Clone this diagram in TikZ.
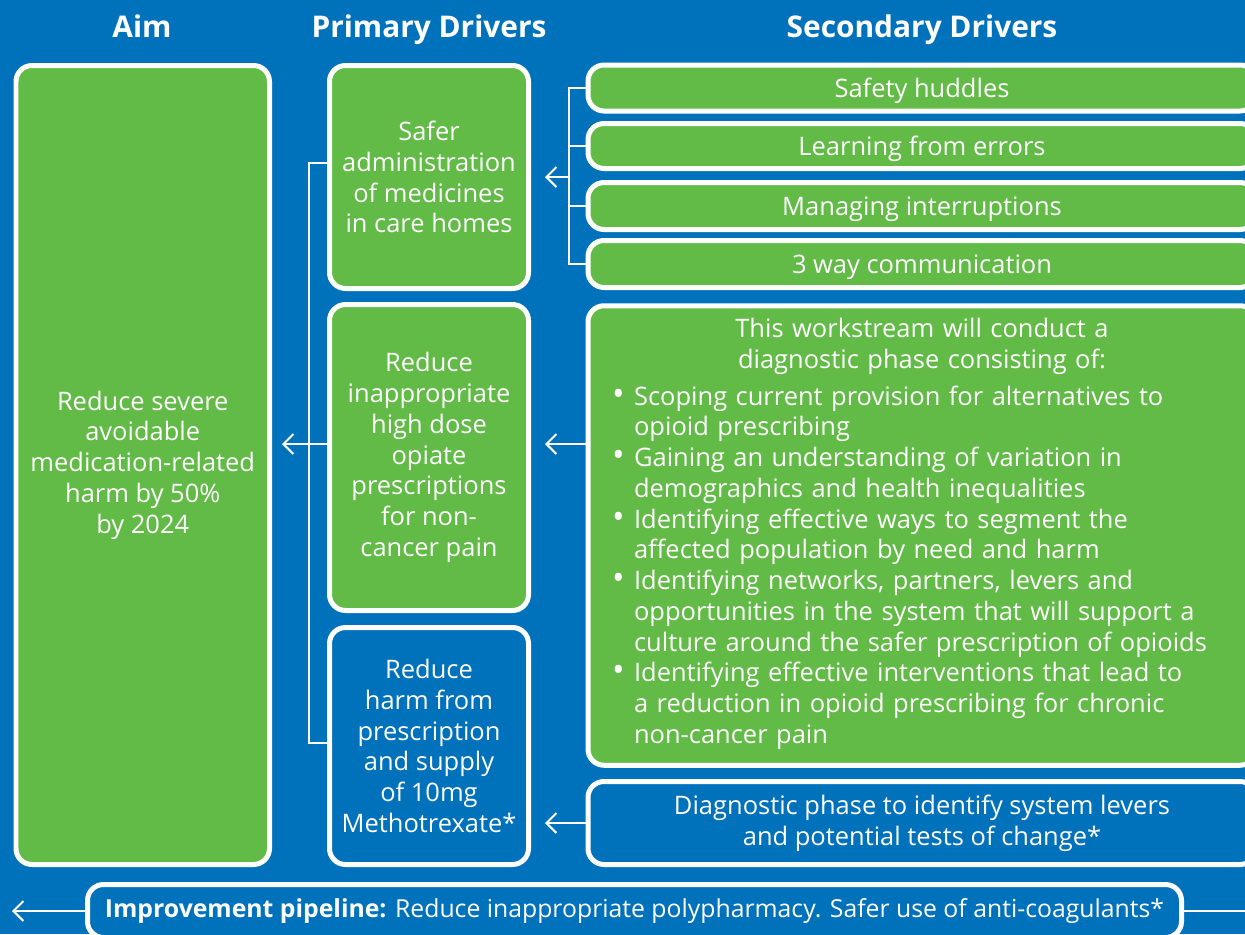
\documentclass[tikz,border=0pt]{standalone}
\usepackage{fontspec}
\setmainfont{Open Sans}
\usetikzlibrary{positioning,arrows.meta}
\definecolor{nhsblue}{RGB}{0,114,188}
\definecolor{drvgreen}{RGB}{98,187,70}
\newcommand{\pxu}{0.02cm}
\newcommand{\sdbullet}{{\fontsize{19}{17.5}\selectfont\textbullet}}
\tikzset{
  drvbox/.style={draw=white, line width=0.1cm, rounded corners=0.32cm, text=white,
    align=center, inner sep=0pt, font=\fontsize{14.5}{17.5}\selectfont},
  greenbox/.style={drvbox, fill=drvgreen},
  bluebox/.style={drvbox, fill=nhsblue},
  oneline/.style={minimum width=668*\pxu, text height=13pt, text depth=2pt},
  heading/.style={text=white, anchor=base, font=\bfseries\fontsize{17}{20}\selectfont},
  link/.style={draw=white, line width=0.04cm},
  feed/.style={link, -{Straight Barb[length=0.2cm, width=0.4cm]}},
}

\begin{document}
\begin{tikzpicture}[x=0.02cm, y=-0.02cm]
\useasboundingbox (0,0) rectangle (1245,934);
\clip (0,0) rectangle (1245,934);
\fill[nhsblue] (0,0) rectangle (1245,934);

% headings
\node[heading] (aimhead) at (142,37) {Aim};
\node[heading] (pdhead) at (429,37) {Primary Drivers};
\node[heading] (sdhead) at (922,37) {Secondary Drivers};

% aim
\node[greenbox, minimum width=253.5*\pxu, minimum height=799*\pxu] (aim) at (142.75,465)
    {Reduce severe\\avoidable\\medication-related\\harm by 50\%\\by 2024};

% primary drivers
\node[greenbox, minimum width=199*\pxu, minimum height=223*\pxu] (pd1) at (429,177)
    {Safer\\administration\\of medicines\\in care homes};
\node[greenbox, minimum width=199*\pxu, minimum height=306*\pxu] (pd2) at (429,457.5)
    {Reduce\\inappropriate\\high dose\\opiate\\prescriptions\\for non-\\cancer pain};
\node[bluebox, minimum width=199*\pxu, minimum height=237*\pxu] (pd3) at (429,746)
    {Reduce\\harm from\\prescription\\and supply\\of 10mg\\Methotrexate*};

% secondary drivers
\node[greenbox, oneline, minimum height=46*\pxu] (sd1) at (922,88) {Safety huddles};
\node[greenbox, oneline, minimum height=45*\pxu] (sd2) at (922,146) {Learning from errors};
\node[greenbox, oneline, minimum height=47*\pxu] (sd3) at (922,206) {Managing interruptions};
\node[greenbox, oneline, minimum height=47*\pxu] (sd4) at (922,264) {3 way communication};
\node[greenbox, minimum width=668*\pxu, minimum height=459.5*\pxu, text width=620*\pxu,
    align=left] (sdlist) at (922,535.5)
    {{\centering This workstream will conduct a\\diagnostic phase consisting of:\par}
     \vspace{4pt}
     \begin{tabular}{@{}l@{\hspace{0.19cm}}l@{}}
     \sdbullet & Scoping current provision for alternatives to\\
               & opioid prescribing\\
     \sdbullet & Gaining an understanding of variation in\\
               & demographics and health inequalities\\
     \sdbullet & Identifying effective ways to segment the\\
               & affected population by need and harm\\
     \sdbullet & Identifying networks, partners, levers and\\
               & opportunities in the system that will support a\\
               & culture around the safer prescription of opioids\\
     \sdbullet & Identifying effective interventions that lead to\\
               & a reduction in opioid prescribing for chronic\\
               & non-cancer pain
     \end{tabular}};
\node[bluebox, minimum width=668*\pxu, minimum height=83*\pxu] (sddiag) at (922,823)
    {Diagnostic phase to identify system levers\\and potential tests of change*};

% pipeline
\node[bluebox, minimum width=1094*\pxu, minimum height=53*\pxu, font=\fontsize{14.1}{17.5}\selectfont]
    (pipe) at (634.5,911)
    {\textbf{Improvement pipeline:} Reduce inappropriate polypharmacy. Safer use of anti-coagulants*};

% connectors
\coordinate (sdj) at (569,177);
\coordinate (pdtop) at (309,163);
\coordinate (pdbot) at (309,743);
\coordinate (pdj) at (309,444);
\coordinate (pipeend) at (12,911);
\coordinate (pipeout) at (1250,911);

\draw[link] (sd1.west) -| (sdj) |- (sd4.west);
\draw[link] (sd2.west) -| (sdj);
\draw[link] (sd3.west) -| (sdj);
\draw[feed, shorten >=0.28cm] (sdj) -- (pd1.east |- sdj);

\draw[link] (pd1.west |- pdtop) -- (pdtop) -- (pdbot) -- (pd3.west |- pdbot);
\draw[feed, shorten >=0.2cm] (pd2.west |- pdj) -- (aim.east |- pdj);

\draw[feed, shorten >=0.28cm] (sdlist.west |- pdj) -- (pd2.east |- pdj);
\draw[feed, shorten >=0.28cm] (sddiag.west) -- (pd3.east |- sddiag.west);

\draw[feed] (pipe.west) -- (pipeend);
\draw[link] (pipe.east) -- (pipeout);
\end{tikzpicture}
\end{document}
